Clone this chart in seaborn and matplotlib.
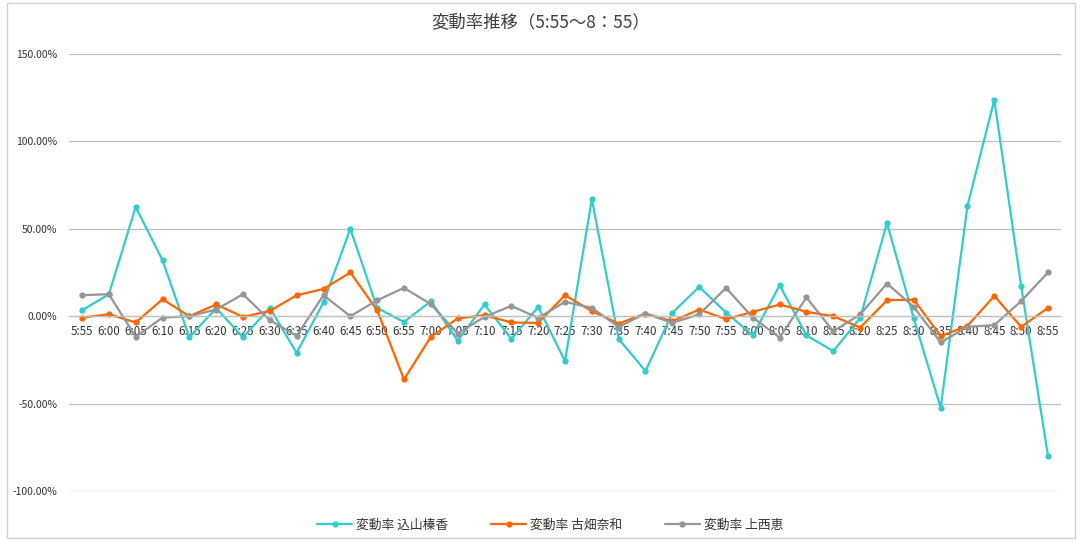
import numpy as np
import pandas as pd
import matplotlib
matplotlib.use("Agg")
import matplotlib.pyplot as plt
import seaborn as sns
from matplotlib.patches import Rectangle

times = ["5:55", "6:00", "6:05", "6:10", "6:15", "6:20", "6:25", "6:30", "6:35", "6:40",
         "6:45", "6:50", "6:55", "7:00", "7:05", "7:10", "7:15", "7:20", "7:25", "7:30",
         "7:35", "7:40", "7:45", "7:50", "7:55", "8:00", "8:05", "8:10", "8:15", "8:20",
         "8:25", "8:30", "8:35", "8:40", "8:45", "8:50", "8:55"]

komiyama = [3.4, 12.5, 62.5, 32.0, -12.0, 4.5, -12.0, 4.7, -21.0, 8.0,
            50.0, 4.7, -3.3, 8.6, -14.0, 6.7, -13.0, 5.3, -25.7, 67.0,
            -13.0, -31.4, 1.9, 16.8, 2.1, -11.0, 17.7, -11.0, -20.0, -1.0,
            53.3, -1.3, -52.4, 63.2, 123.8, 17.3, -79.8]

furuhata = [-0.8, 1.1, -3.6, 9.7, 0.0, 6.7, -0.4, 3.0, 12.0, 15.6,
            25.0, 3.4, -36.2, -11.8, -1.3, 0.6, -3.6, -3.8, 12.0, 2.9,
            -4.2, 1.5, -2.9, 3.8, -1.7, 2.5, 6.7, 2.5, 0.0, -6.5,
            9.1, 9.5, -11.4, -5.5, 11.6, -6.1, 4.8]

kaminishi = [12.0, 12.6, -11.8, -0.8, 0.0, 3.8, 12.6, -2.3, -11.2, 12.0,
             0.0, 9.1, 16.2, 6.9, -9.9, -0.4, 5.9, -1.0, 8.2, 4.8,
             -6.1, 1.5, -3.8, 1.0, 16.2, -0.8, -12.2, 10.7, -8.6, 1.0,
             18.7, 5.3, -15.0, -6.1, -5.1, 8.6, 25.0]

series_names = ["変動率 込山榛香", "変動率 古畑奈和", "変動率 上西恵"]
series_colors = ["#33CCCC", "#FF6600", "#969696"]
yticks = [-100, -50, 0, 50, 100, 150]
title = "変動率推移（5:55～8：55）"

frames = []
for name, vals in zip(series_names, [komiyama, furuhata, kaminishi]):
    frames.append(pd.DataFrame({"idx": np.arange(len(times)), "time": times,
                                "value": vals, "series": name}))
df = pd.concat(frames, ignore_index=True)

sns.set_theme(style="white")
plt.rcParams["font.family"] = ["Noto Sans CJK JP", "DejaVu Sans"]

fig = plt.figure(figsize=(10.81, 5.41), dpi=100)
ax = fig.add_axes([68.6 / 1081, 50 / 541, (1061.4 - 68.6) / 1081, (491 - 54) / 541])

sns.lineplot(data=df, x="idx", y="value", hue="series", hue_order=series_names,
             palette=series_colors, marker="o", markersize=4.5, markeredgewidth=0,
             linewidth=1.6, sort=False, ax=ax)

for s in ["left", "right", "top"]:
    ax.spines[s].set_visible(False)
ax.spines["bottom"].set_position(("data", 0))
ax.spines["bottom"].set_color("#BFBFBF")
ax.spines["bottom"].set_linewidth(0.9)

ax.set_xlim(-0.5, len(times) - 0.5)
ax.set_ylim(-100, 150)
ax.set_yticks(yticks)
ax.set_yticklabels([f"{v:.2f}%" for v in yticks], fontsize=7.5, color="#333333")
ax.set_xticks(np.arange(len(times)))
ax.set_xticklabels(times, fontsize=8.3, color="#333333")
ax.grid(axis="y", color="#BFBFBF", linewidth=0.9)
ax.set_axisbelow(True)
ax.tick_params(axis="both", length=0)
ax.tick_params(axis="y", pad=8)
ax.tick_params(axis="x", pad=6)
ax.set_xlabel("")
ax.set_ylabel("")

leg = ax.legend(loc="lower center", bbox_to_anchor=(0.485, -0.12), ncol=3, frameon=False,
                fontsize=9.2, handlelength=2.8, columnspacing=3.3, handletextpad=0.3)
for t in leg.get_texts():
    t.set_color("#333333")

fig.text(0.5, 1 - 22 / 541, title, ha="center", va="center", fontsize=12.5, color="#404040")

fig.patches.append(Rectangle((6.5 / 1081, 3 / 541), 1068 / 1081, 535 / 541, transform=fig.transFigure,
                             fill=False, edgecolor="#D0D0D0", linewidth=1))

fig.savefig("out.png", dpi=100)
